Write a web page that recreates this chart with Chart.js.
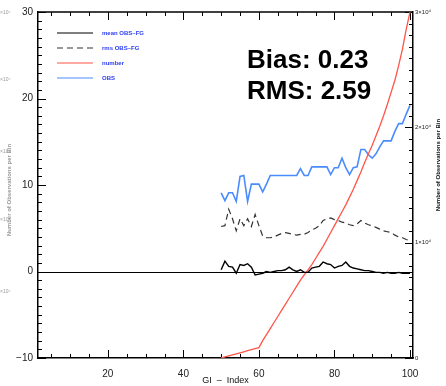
<!DOCTYPE html>
<html>
<head>
<meta charset="utf-8">
<script src="https://cdn.jsdelivr.net/npm/chart.js@4"></script>
<style>
  html, body { margin: 0; padding: 0; background: #fff; }
  canvas { display: block; }
</style>
</head>
<body>
<canvas id="chart" width="446" height="386"></canvas>
<script>
// GI index bins
const giIndex = [50, 51, 52, 53, 54, 55, 56, 57, 58, 59,
  60, 61, 62, 63, 64, 65, 66, 67, 68, 69,
  70, 71, 72, 73, 74, 75, 76, 77, 78, 79,
  80, 81, 82, 83, 84, 85, 86, 87, 88, 89,
  90, 91, 92, 93, 94, 95, 96, 97, 98, 99, 100]

const meanObsFg = [0.2, 1.2, 0.6, 0.5, -0.2, 0.8, 0.7, 0.9, 0.5, -0.4,
  -0.3, -0.2, 0.0, -0.1, 0.0, 0.1, 0.1, 0.2, 0.5, 0.2,
  0.0, 0.2, -0.1, -0.1, 0.4, 0.5, 0.6, 1.1, 0.9, 0.8,
  0.4, 0.6, 0.7, 1.1, 0.6, 0.4, 0.3, 0.2, 0.1, 0.1,
  0.0, -0.1, -0.1, -0.2, -0.1, -0.2, -0.2, -0.1, -0.2, -0.2, -0.2]

const rmsObsFg = [5.2, 5.3, 7.2, 6.1, 4.7, 6.1, 5.3, 6.1, 5.2, 6.6,
  5.3, 4.1, 3.9, 3.9, 4.0, 4.2, 4.4, 4.5, 4.4, 4.3,
  4.2, 4.3, 4.3, 4.5, 4.8, 5.0, 5.3, 5.9, 6.1, 6.2,
  6.0, 5.9, 5.7, 5.6, 5.4, 5.3, 5.5, 5.9, 5.6, 5.4,
  5.3, 5.1, 4.9, 4.7, 4.6, 4.5, 4.2, 4.0, 3.9, 3.7, 3.6]

const obs = [9.1, 8.2, 9.1, 9.1, 8.1, 11.0, 11.1, 8.1, 10.1, 10.1,
  10.1, 9.2, 10.1, 11.1, 11.1, 11.1, 11.1, 11.1, 11.1, 11.1,
  11.1, 11.9, 11.1, 11.1, 12.1, 12.1, 12.1, 12.1, 12.1, 11.2,
  12.0, 12.0, 13.1, 12.0, 11.2, 12.0, 12.1, 14.1, 14.1, 13.5,
  13.1, 13.6, 14.4, 15.1, 15.1, 15.1, 16.2, 17.1, 17.1, 18.2, 19.2]

// number of observations per bin (right axis)
const numberPerBin = [0, 90, 180, 270, 360, 450, 540, 630, 720, 810,
  900, 1500, 2030, 2550, 3080, 3600, 4130, 4650, 5180, 5700,
  6230, 6750, 7200, 7650, 8100, 8630, 9150, 9680, 10280, 10880,
  11480, 12080, 12680, 13280, 13950, 14630, 15380, 16130, 16950, 17700,
  18450, 19280, 20100, 21000, 21980, 23030, 24080, 25350, 26780, 28500, 30000]

const xTicks = [20, 40, 60, 80, 100]
const leftTicks = [-10, 0, 10, 20, 30]
const rightTicks = [0, 10000, 20000, 30000]
const ghostTickY = [13, 80, 152, 220, 292]

const series = [
  { label: 'mean OBS\u2013FG', values: meanObsFg, color: '#000000', dash: [], axis: 'y', width: 1.4 },
  { label: 'rms OBS\u2013FG', values: rmsObsFg, color: '#333333', dash: [6, 4], axis: 'y', width: 1.2 },
  { label: 'number', values: numberPerBin, color: '#ff5548', dash: [], axis: 'y2', width: 1.3 },
  { label: 'OBS', values: obs, color: '#4a8cff', dash: [], axis: 'y', width: 1.6 }
]

const FONT = '"Liberation Sans", Arial, sans-serif'

function drawFrame(chart) {
  const { ctx, chartArea: a, scales } = chart
  ctx.save()
  ctx.setLineDash([])
  ctx.strokeStyle = '#000'

  // zero line + top edge
  ctx.lineWidth = 1.2
  const y0 = Math.round(scales.y.getPixelForValue(0)) + 0.5
  ctx.beginPath()
  ctx.moveTo(a.left, y0)
  ctx.lineTo(a.right, y0)
  ctx.stroke()
  ctx.lineWidth = 1.5
  ctx.beginPath()
  ctx.moveTo(a.left, a.top)
  ctx.lineTo(a.right, a.top)
  ctx.stroke()

  // inward tick marks
  ctx.lineWidth = 1
  ctx.beginPath()
  for (let v = 5; v <= 100; v += 5) {
    const px = Math.round(scales.x.getPixelForValue(v)) + 0.5
    const len = v % 20 === 0 ? 8 : 4
    ctx.moveTo(px, a.bottom)
    ctx.lineTo(px, a.bottom - len)
    ctx.moveTo(px, a.top)
    ctx.lineTo(px, a.top + len)
  }
  for (let v = -10; v <= 30; v += 1) {
    const py = Math.round(scales.y.getPixelForValue(v)) + 0.5
    const len = v % 10 === 0 ? 8 : 4
    ctx.moveTo(a.left, py)
    ctx.lineTo(a.left + len, py)
  }
  for (let v = 0; v <= 30000; v += 1000) {
    const py = Math.round(scales.y2.getPixelForValue(v)) + 0.5
    const len = v % 10000 === 0 ? 8 : 4
    ctx.moveTo(a.right, py)
    ctx.lineTo(a.right - len, py)
  }
  ctx.stroke()
  ctx.restore()
}

const boxPlugin = {
  id: 'idlBox',
  beforeDatasetsDraw(chart) {
    drawFrame(chart)
  },
  afterDraw(chart) {
    const { ctx, chartArea: a } = chart
    ctx.save()

    // legend
    let ly = 33
    series.forEach(s => {
      ctx.strokeStyle = s.color
      ctx.lineWidth = 1.2
      ctx.setLineDash(s.dash)
      ctx.beginPath()
      ctx.moveTo(57, ly)
      ctx.lineTo(93, ly)
      ctx.stroke()
      ctx.setLineDash([])
      ctx.fillStyle = '#2a3cf0'
      ctx.font = 'bold 6px ' + FONT
      ctx.textAlign = 'left'
      ctx.textBaseline = 'middle'
      ctx.fillText(s.label, 102, ly)
      ly += 15
    })

    // Bias / RMS
    ctx.fillStyle = '#000'
    ctx.font = 'bold 26px ' + FONT
    ctx.textBaseline = 'alphabetic'
    ctx.fillText('Bias: 0.23', 247, 68)
    ctx.fillText('RMS: 2.59', 247, 99)

    // x title
    ctx.font = '9px ' + FONT
    ctx.textAlign = 'center'
    ctx.textBaseline = 'middle'
    ctx.fillStyle = '#111'
    ctx.fillText('GI  \u2013  Index', (a.left + a.right) / 2, 381)

    // right axis title
    ctx.font = 'bold 6px ' + FONT
    ctx.save()
    ctx.translate(438, 165)
    ctx.rotate(-Math.PI / 2)
    ctx.fillText('Number of Observations per Bin', 0, 0)
    ctx.restore()

    // faded ghost labels on the left edge
    ctx.fillStyle = '#9a9a9a'
    ctx.save()
    ctx.translate(9, 190)
    ctx.rotate(-Math.PI / 2)
    ctx.fillText('Number of Observations per Bin', 0, 0)
    ctx.restore()
    ctx.font = '5px ' + FONT
    ctx.textAlign = 'left'
    ghostTickY.forEach(y => ctx.fillText('\u00d710\u2074', 0, y))
    ctx.restore()
  }
}

new Chart(document.getElementById('chart'), {
  type: 'line',
  data: {
    datasets: series.map(s => ({
      label: s.label,
      data: giIndex.map((gi, i) => ({ x: gi, y: s.values[i] })),
      borderColor: s.color,
      borderWidth: s.width,
      borderDash: s.dash,
      pointRadius: 0,
      tension: 0,
      fill: false,
      yAxisID: s.axis
    }))
  },
  options: {
    responsive: false,
    animation: false,
    devicePixelRatio: 1,
    layout: { padding: { top: 12, left: 0, right: 0, bottom: 0 } },
    plugins: { legend: { display: false }, tooltip: { enabled: false } },
    scales: {
      x: {
        type: 'linear',
        min: 1.5,
        max: 100.8,
        afterBuildTicks: scale => { scale.ticks = xTicks.map(v => ({ value: v })) },
        afterFit: scale => { scale.height = 28 },
        grid: { display: false, drawTicks: false },
        border: { display: true, color: '#000', width: 1.5 },
        ticks: { padding: 10, color: '#222', font: { family: FONT, size: 10 }, maxRotation: 0 }
      },
      y: {
        position: 'left',
        min: -10,
        max: 30,
        afterBuildTicks: scale => { scale.ticks = leftTicks.map(v => ({ value: v })) },
        afterFit: scale => { scale.width = 38 },
        grid: { display: false, drawTicks: false },
        border: { display: true, color: '#000', width: 1.5 },
        ticks: {
          padding: 5, color: '#222', font: { family: FONT, size: 10 },
          callback: v => v < 0 ? '\u2212' + Math.abs(v) : String(v)
        }
      },
      y2: {
        position: 'right',
        min: 0,
        max: 30000,
        afterBuildTicks: scale => { scale.ticks = rightTicks.map(v => ({ value: v })) },
        afterFit: scale => { scale.width = 33 },
        grid: { display: false, drawTicks: false },
        border: { display: true, color: '#000', width: 1.5 },
        ticks: {
          padding: 2, color: '#222', font: { family: FONT, size: 6 },
          callback: v => v === 0 ? '0' : (v / 10000) + '\u00d710\u2074'
        }
      }
    }
  },
  plugins: [boxPlugin]
})
</script>
</body>
</html>
